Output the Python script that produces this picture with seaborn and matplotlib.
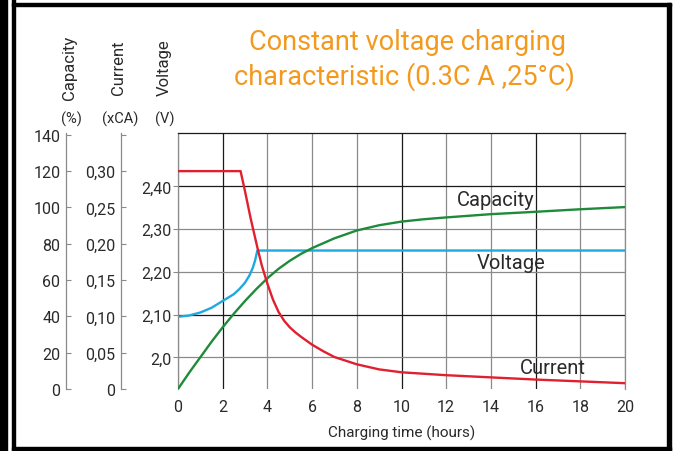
import matplotlib
matplotlib.use("Agg")
import matplotlib.pyplot as plt
from matplotlib.patches import Rectangle
import seaborn as sns
import numpy as np

# values
volt_hours = [0, 0.5, 1, 1.5, 2, 2.5, 2.75, 3, 3.2, 3.35, 3.45, 3.55, 20]
volt_values = [2.095, 2.098, 2.105, 2.116, 2.132, 2.148, 2.160, 2.175, 2.192, 2.210,
               2.227, 2.25, 2.25]

curr_hours = [0, 2.8, 3.0, 3.25, 3.55, 3.75, 4, 4.25, 4.5, 4.75, 5, 5.25, 5.5, 6, 6.5,
              7, 7.5, 8, 9, 10, 11, 12, 14, 16, 18, 20]
curr_values = [0.30, 0.30, 0.272, 0.235, 0.195, 0.170, 0.145, 0.123, 0.106, 0.094,
               0.085, 0.078, 0.072, 0.061, 0.052, 0.044, 0.039, 0.034, 0.027, 0.023,
               0.021, 0.019, 0.016, 0.013, 0.0105, 0.008]

cap_hours = [0, 0.5, 1, 1.5, 2, 2.5, 3, 3.5, 4, 4.5, 5, 5.5, 6, 7, 8, 9, 10, 11, 12,
             14, 16, 18, 20]
cap_values = [0, 9, 17.5, 26, 34, 41.5, 48.5, 55, 61, 66.2, 70.6, 74.4, 77.6, 83.0,
              87.3, 90.2, 92.2, 93.5, 94.5, 96.3, 97.6, 99, 100.2]

hour_ticks = list(range(0, 21, 2))
volt_ticks = [2.0, 2.1, 2.2, 2.3, 2.4]
volt_labels = ["2,0", "2,10", "2,20", "2,30", "2,40"]
cap_ticks = [0, 20, 40, 60, 80, 100, 120, 140]
cap_labels = ["0", "20", "40", "60", "80", "100", "120", "140"]
curr_ticks = [0, 0.05, 0.10, 0.15, 0.20, 0.25, 0.30, 0.35]
curr_labels = ["0", "0,05", "0,10", "0,15", "0,20", "0,25", "0,30", ""]

sns.set_theme(style="white")
plt.rcParams["font.family"] = ["Roboto", "DejaVu Sans"]

RED = "#E0202E"
BLUE = "#1EA8E0"
GREEN = "#1F8B3A"
GRAY = "#8a8a8a"
TXT = "#2a2a2a"
ORANGE = "#F39A1E"

W, H = 675, 452
fig = plt.figure(figsize=(W / 100, H / 100), dpi=100)
ax = fig.add_axes([178 / W, 62 / H, 447 / W, 256 / H])
ax_cap = ax.twinx()
ax_cur = ax.twinx()

sns.lineplot(x=volt_hours, y=volt_values, ax=ax, color=BLUE, linewidth=1.7)
sns.lineplot(x=cap_hours, y=cap_values, ax=ax_cap, color=GREEN, linewidth=1.7)
sns.lineplot(x=curr_hours, y=curr_values, ax=ax_cur, color=RED, linewidth=1.7)

ax.set_xlim(0, 20)
ax.set_ylim(1.926, 2.525)
ax_cap.set_ylim(0, 141)
ax_cur.set_ylim(0, 141 / 400)

# main (voltage) axis
ax.set_xticks(hour_ticks)
ax.set_xticklabels([str(h) for h in hour_ticks])
ax.set_yticks(volt_ticks)
ax.set_yticklabels(volt_labels)
ax.tick_params(axis="x", length=0, pad=7, labelsize=11.5, labelcolor=TXT)
ax.tick_params(axis="y", direction="out", length=3.6, width=0.8, color=GRAY,
               pad=1, labelsize=11.5, labelcolor=TXT, left=True)
ax.grid(True, color=GRAY, linewidth=0.9)
for i, gl in enumerate(ax.get_xgridlines()):
    if hour_ticks[i] in (2, 10, 16):
        gl.set_color("#1a1a1a")
for i, gl in enumerate(ax.get_ygridlines()):
    if volt_ticks[i] in (2.1, 2.4):
        gl.set_color("#1a1a1a")
for side in ("left", "right"):
    ax.spines[side].set_color(GRAY)
    ax.spines[side].set_linewidth(0.9)
ax.spines["top"].set_color("#1a1a1a")
ax.spines["top"].set_linewidth(0.9)
ax.spines["bottom"].set_visible(False)
ax.set_xlabel("Charging time (hours)", fontsize=11, color=TXT, labelpad=8)
ax.set_ylabel("")

# capacity and current axes on the left
for a, xpos, ticks, labels in ((ax_cap, 66, cap_ticks, cap_labels),
                               (ax_cur, 121, curr_ticks, curr_labels)):
    a.yaxis.set_ticks_position("left")
    a.yaxis.set_label_position("left")
    for side in ("right", "top", "bottom"):
        a.spines[side].set_visible(False)
    a.spines["left"].set_visible(True)
    a.spines["left"].set_position(("axes", (xpos - 178) / 447))
    a.spines["left"].set_color(GRAY)
    a.spines["left"].set_linewidth(0.9)
    a.set_yticks(ticks)
    a.set_yticklabels(labels)
    a.tick_params(axis="y", direction="in", length=3.5, width=0.8, color=GRAY,
                  pad=4, labelsize=11.5, labelcolor=TXT)
    a.set_ylabel("")
    a.grid(False)

# curve labels
ax.text(14.2, 2.37, "Capacity", ha="center", va="center", fontsize=14.5, color=TXT)
ax.text(14.9, 2.223, "Voltage", ha="center", va="center", fontsize=14.5, color=TXT)
ax.text(16.75, 1.977, "Current", ha="center", va="center", fontsize=14.5, color=TXT)

# axis headers
for xpx, name, unit in ((70, "Capacity", "(%)"), (119, "Current", "(xCA)"), (164, "Voltage", "(V)")):
    fig.text(xpx / W, 1 - 68 / H, name, rotation=90, ha="center", va="center",
             fontsize=12, color=TXT)
    fig.text((xpx + 1) / W, 1 - 119 / H, unit, ha="center", va="center",
             fontsize=10.5, color=TXT)

# title
fig.text(407 / W, 1 - 43 / H, "Constant voltage charging", ha="center", va="center",
         fontsize=19.5, color=ORANGE)
fig.text(404 / W, 1 - 77 / H, "characteristic (0.3C A ,25°C)", ha="center", va="center",
         fontsize=19.5, color=ORANGE)

# outer frame
def frame(x0, y0, x1, y1):
    fig.patches.append(Rectangle((x0 / W, 1 - y1 / H), (x1 - x0) / W, (y1 - y0) / H,
                                 transform=fig.transFigure, color="black", zorder=10))

frame(0, 0, 7, H)
frame(12, 0, 15, H)
frame(12, 4, 671, 7)
frame(667, 4, 671, H)
frame(12, 448, 671, 451)

fig.savefig("out.png", dpi=100)
